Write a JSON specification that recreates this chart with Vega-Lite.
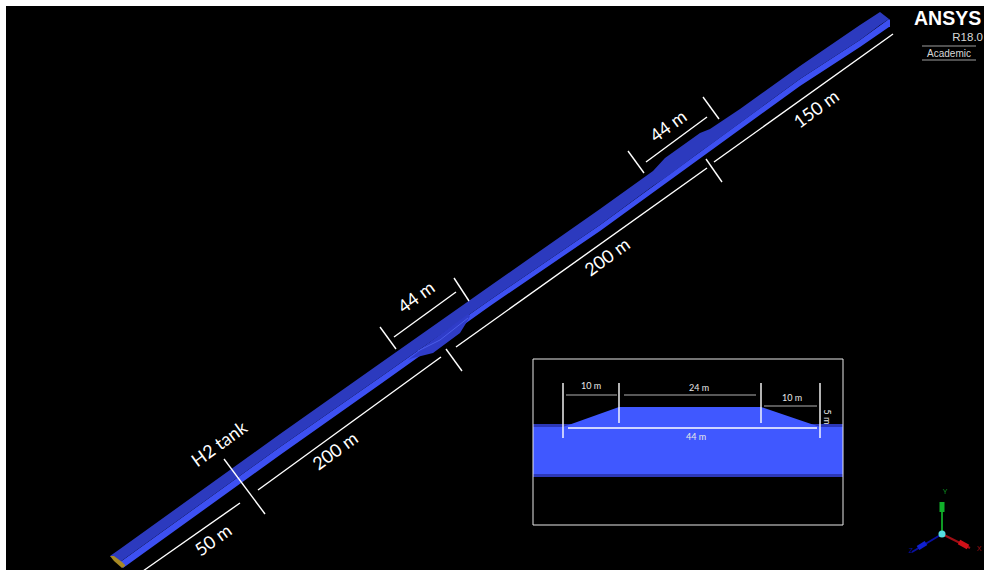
{"$schema":"https://vega.github.io/schema/vega-lite/v6.json","width":984,"height":572,"autosize":{"type":"none"},"padding":0,"background":"#ffffff","config":{"view":{"stroke":null}},
"encoding":{"x":{"field":"x","type":"quantitative","axis":null,"scale":{"domain":[0,984],"nice":false,"zero":false}},"y":{"field":"y","type":"quantitative","axis":null,"scale":{"domain":[572,0],"nice":false,"zero":false}}},
"layer":[
{"data":{"values":[{"x":6,"x2":984,"y":6,"y2":570}]},"mark":{"type":"rect","color":"#000000"},"encoding":{"x2":{"field":"x2"},"y2":{"field":"y2"}}},
{"data":{"values":[{"x":120,"y":562,"y2":562},{"x":123,"y":560,"y2":568},{"x":280,"y":447,"y2":455},{"x":382,"y":376,"y2":383},{"x":490,"y":300,"y2":306},{"x":600,"y":225,"y2":231},{"x":800,"y":79,"y2":86},{"x":860,"y":40,"y2":47},{"x":889,"y":19,"y2":27},{"x":890,"y":20,"y2":27}]},"mark":{"type":"area","color":"#3d50f2"},"encoding":{"y2":{"field":"y2"}}},
{"data":{"values":[{"x":110,"y":556,"y2":556},{"x":120,"y":549,"y2":562},{"x":280,"y":434,"y2":447},{"x":382,"y":362,"y2":376},{"x":490,"y":286,"y2":300},{"x":600,"y":209,"y2":225},{"x":653,"y":171,"y2":186},{"x":665,"y":158,"y2":178},{"x":672,"y":153,"y2":173},{"x":700,"y":133,"y2":152},{"x":710,"y":129,"y2":145},{"x":740,"y":109,"y2":123},{"x":800,"y":66,"y2":79},{"x":860,"y":25,"y2":40},{"x":880,"y":12,"y2":25},{"x":889,"y":19,"y2":19}]},"mark":{"type":"area","color":"#2c3abe"},"encoding":{"y2":{"field":"y2"}}},
{"data":{"values":[{"x":408,"y":360,"y2":360},{"x":413,"y":356,"y2":358},{"x":433,"y":340,"y2":353},{"x":460,"y":320,"y2":333},{"x":468,"y":314,"y2":320},{"x":470,"y":316,"y2":316}]},"mark":{"type":"area","color":"#2f3cc8"},"encoding":{"y2":{"field":"y2"}}},
{"data":{"values":[{"x":418,"y":351},{"x":440,"y":340},{"x":468,"y":318}]},"mark":{"type":"line","color":"#4a5ce8","strokeWidth":1}},
{"data":{"values":[{"x":110,"y":556,"y2":556},{"x":114,"y":556,"y2":561},{"x":122,"y":562,"y2":568},{"x":125,"y":565,"y2":566}]},"mark":{"type":"area","color":"#a88a24"},"encoding":{"y2":{"field":"y2"}}},
{"data":{"values":[{"x":533,"y":424,"y2":477},{"x":843,"y":424,"y2":477}]},"mark":{"type":"area","color":"#2c38b8"},"encoding":{"y2":{"field":"y2"}}},
{"data":{"values":[{"x":533,"y":427,"y2":474},{"x":843,"y":427,"y2":474}]},"mark":{"type":"area","color":"#4058ff"},"encoding":{"y2":{"field":"y2"}}},
{"data":{"values":[{"x":563,"y":427,"y2":427},{"x":619,"y":407,"y2":427},{"x":761,"y":407,"y2":427},{"x":820,"y":427,"y2":427}]},"mark":{"type":"area","color":"#4058ff"},"encoding":{"y2":{"field":"y2"}}},
{"data":{"values":[{"x":533,"x2":843,"y":359,"y2":525}]},"mark":{"type":"rect","fill":null,"stroke":"#e8e8e8","strokeWidth":1},"encoding":{"x2":{"field":"x2"},"y2":{"field":"y2"}}},
{"data":{"values":[{"x":143,"y":571,"x2":240,"y2":503},{"x":224,"y":459,"x2":265,"y2":514},{"x":258,"y":490,"x2":441,"y2":357},{"x":446,"y":349,"x2":462,"y2":371},{"x":456,"y":347,"x2":707,"y2":168},{"x":706,"y":159,"x2":722,"y2":182},{"x":714,"y":162,"x2":893,"y2":34},{"x":380,"y":327,"x2":396,"y2":349},{"x":454,"y":278,"x2":469,"y2":301},{"x":394,"y":337,"x2":456,"y2":292},{"x":628,"y":151,"x2":644,"y2":173},{"x":703,"y":97,"x2":719,"y2":119},{"x":646,"y":162,"x2":707,"y2":117},{"x":563,"y":383,"x2":563,"y2":438},{"x":619,"y":383,"x2":619,"y2":423},{"x":761,"y":383,"x2":761,"y2":423},{"x":820,"y":383,"x2":820,"y2":438},{"x":568,"y":428,"x2":817,"y2":428}]},"mark":{"type":"rule","color":"#ffffff","strokeWidth":1.4},"encoding":{"x2":{"field":"x2"},"y2":{"field":"y2"}}},
{"data":{"values":[{"x":566,"y":395,"x2":617,"y2":395},{"x":624,"y":395,"x2":756,"y2":395},{"x":764,"y":406,"x2":817,"y2":406}]},"mark":{"type":"rule","color":"#b0b0b0","strokeWidth":1},"encoding":{"x2":{"field":"x2"},"y2":{"field":"y2"}}},
{"data":{"values":[{"x":220,"y":445,"t":"H2 tank"},{"x":214,"y":541,"t":"50 m"},{"x":336,"y":452,"t":"200 m"},{"x":417,"y":298,"t":"44 m"},{"x":608,"y":258,"t":"200 m"},{"x":669,"y":127,"t":"44 m"},{"x":817,"y":110,"t":"150 m"}]},"mark":{"type":"text","color":"#ffffff","font":"Lato","fontSize":18,"angle":324,"align":"center","baseline":"middle"},"encoding":{"text":{"field":"t"}}},
{"data":{"values":[{"x":591,"y":386,"t":"10 m"},{"x":699,"y":388,"t":"24 m"},{"x":792,"y":398,"t":"10 m"},{"x":696,"y":437,"t":"44 m"}]},"mark":{"type":"text","color":"#e8e8e8","font":"Lato","fontSize":9,"align":"center","baseline":"middle"},"encoding":{"text":{"field":"t"}}},
{"data":{"values":[{"x":827,"y":417,"t":"5 m"}]},"mark":{"type":"text","color":"#e8e8e8","font":"Lato","fontSize":9,"angle":90,"align":"center","baseline":"middle"},"encoding":{"text":{"field":"t"}}},
{"data":{"values":[{"x":914,"y":25,"t":"ANSYS"}]},"mark":{"type":"text","color":"#ffffff","font":"Liberation Sans","fontWeight":"bold","fontSize":19.5,"align":"left","baseline":"alphabetic"},"encoding":{"text":{"field":"t"}}},
{"data":{"values":[{"x":983,"y":41,"t":"R18.0"}]},"mark":{"type":"text","color":"#d8d8d8","font":"Liberation Sans","fontSize":11.5,"align":"right","baseline":"alphabetic"},"encoding":{"text":{"field":"t"}}},
{"data":{"values":[{"x":949,"y":57,"t":"Academic"}]},"mark":{"type":"text","color":"#d8d8d8","font":"Liberation Sans","fontSize":10,"align":"center","baseline":"alphabetic"},"encoding":{"text":{"field":"t"}}},
{"data":{"values":[{"x":922,"y":46,"x2":976,"y2":46},{"x":922,"y":60,"x2":976,"y2":60}]},"mark":{"type":"rule","color":"#6a6a6a","strokeWidth":1.5},"encoding":{"x2":{"field":"x2"},"y2":{"field":"y2"}}},
{"data":{"values":[{"x":942,"y":534,"x2":942,"y2":505}]},"mark":{"type":"rule","color":"#0f9a24","strokeWidth":2},"encoding":{"x2":{"field":"x2"},"y2":{"field":"y2"}}},
{"data":{"values":[{"x":942,"y":512,"x2":942,"y2":502}]},"mark":{"type":"rule","color":"#10b02a","strokeWidth":5},"encoding":{"x2":{"field":"x2"},"y2":{"field":"y2"}}},
{"data":{"values":[{"x":942,"y":534,"x2":912,"y2":552}]},"mark":{"type":"rule","color":"#0a10a0","strokeWidth":2},"encoding":{"x2":{"field":"x2"},"y2":{"field":"y2"}}},
{"data":{"values":[{"x":926,"y":543,"x2":918,"y2":548}]},"mark":{"type":"rule","color":"#1020d0","strokeWidth":5},"encoding":{"x2":{"field":"x2"},"y2":{"field":"y2"}}},
{"data":{"values":[{"x":942,"y":534,"x2":970,"y2":548}]},"mark":{"type":"rule","color":"#a00e14","strokeWidth":2},"encoding":{"x2":{"field":"x2"},"y2":{"field":"y2"}}},
{"data":{"values":[{"x":959,"y":542,"x2":968,"y2":547}]},"mark":{"type":"rule","color":"#d01018","strokeWidth":5},"encoding":{"x2":{"field":"x2"},"y2":{"field":"y2"}}},
{"data":{"values":[{"x":942,"y":534}]},"mark":{"type":"point","filled":true,"color":"#55dde0","size":50,"opacity":1}},
{"data":{"values":[{"x":945,"y":492,"t":"Y"}]},"mark":{"type":"text","color":"#0f9a24","font":"Liberation Sans","fontSize":7},"encoding":{"text":{"field":"t"}}},
{"data":{"values":[{"x":979,"y":549,"t":"X"}]},"mark":{"type":"text","color":"#a00e14","font":"Liberation Sans","fontSize":7},"encoding":{"text":{"field":"t"}}},
{"data":{"values":[{"x":911,"y":551,"t":"Z"}]},"mark":{"type":"text","color":"#0a10a0","font":"Liberation Sans","fontSize":7},"encoding":{"text":{"field":"t"}}}
]}
